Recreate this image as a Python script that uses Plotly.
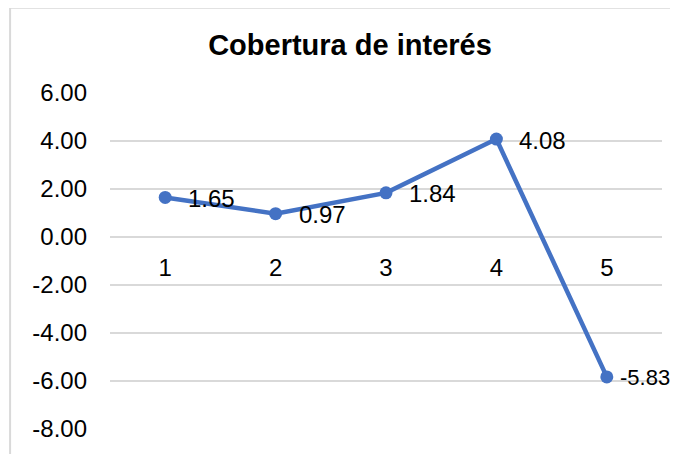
import plotly.graph_objects as go

# data
periods = [1, 2, 3, 4, 5]
coverage = [1.65, 0.97, 1.84, 4.08, -5.83]
y_ticks = [6, 4, 2, 0, -2, -4, -6, -8]

blue = '#4472C4'
grid = '#D9D9D9'
font_family = 'Arial, Liberation Sans, sans-serif'

# page body has an 8px margin, so the figure is a bit smaller than the window
W, H = 670, 446

fig = go.Figure()

fig.add_trace(go.Scatter(
    x=periods,
    y=coverage,
    mode='lines+markers',
    line=dict(color=blue, width=4.5),
    marker=dict(color=blue, size=13),
    hoverinfo='skip',
))

# data labels to the right of each point (Excel style)
for i, (p, v) in enumerate(zip(periods, coverage)):
    last = i == len(periods) - 1
    # last label sits at the right edge, pull it in a little so it stays visible
    fig.add_annotation(
        x=p, y=v, text=f'{v:.2f}', showarrow=False,
        xanchor='left', yanchor='middle',
        xshift=11 if last else 21, yshift=-1,
        font=dict(size=22 if last else 24, color='#000000', family=font_family),
    )

# light grey chart border (cropped on right and bottom)
fig.add_shape(
    type='rect', xref='paper', yref='paper',
    x0=-0.181, x1=1.3, y0=-0.3, y1=1.2537,
    line=dict(color=grid, width=2), fillcolor='rgba(0,0,0,0)', layer='below',
)

fig.update_xaxes(
    range=[0.5, 5.5],
    tickvals=periods,
    ticktext=[str(p) for p in periods],
    showgrid=False, zeroline=False, showline=False,
    anchor='free', position=8 / 14,
    ticks='', ticklabelstandoff=14,
    tickfont=dict(size=24, color='#000000', family=font_family),
)

fig.update_yaxes(
    range=[-8, 6],
    tickvals=y_ticks,
    ticktext=[f'{t:.2f}' for t in y_ticks],
    showgrid=True, gridcolor=grid, gridwidth=1.5,
    zeroline=False, showline=False,
    ticks='', ticklabelstandoff=22,
    tickfont=dict(size=24, color='#000000', family=font_family),
)

fig.update_layout(
    width=W, height=H,
    margin=dict(l=102, r=16, t=85, b=22),
    paper_bgcolor='white',
    plot_bgcolor='white',
    showlegend=False,
    title=dict(
        text='<b>Cobertura de interés</b>',
        x=342 / W, xanchor='center',
        y=1 - 37 / H, yanchor='middle',
        font=dict(size=29, color='#000000', family=font_family),
    ),
)

fig.write_html('out.html')
